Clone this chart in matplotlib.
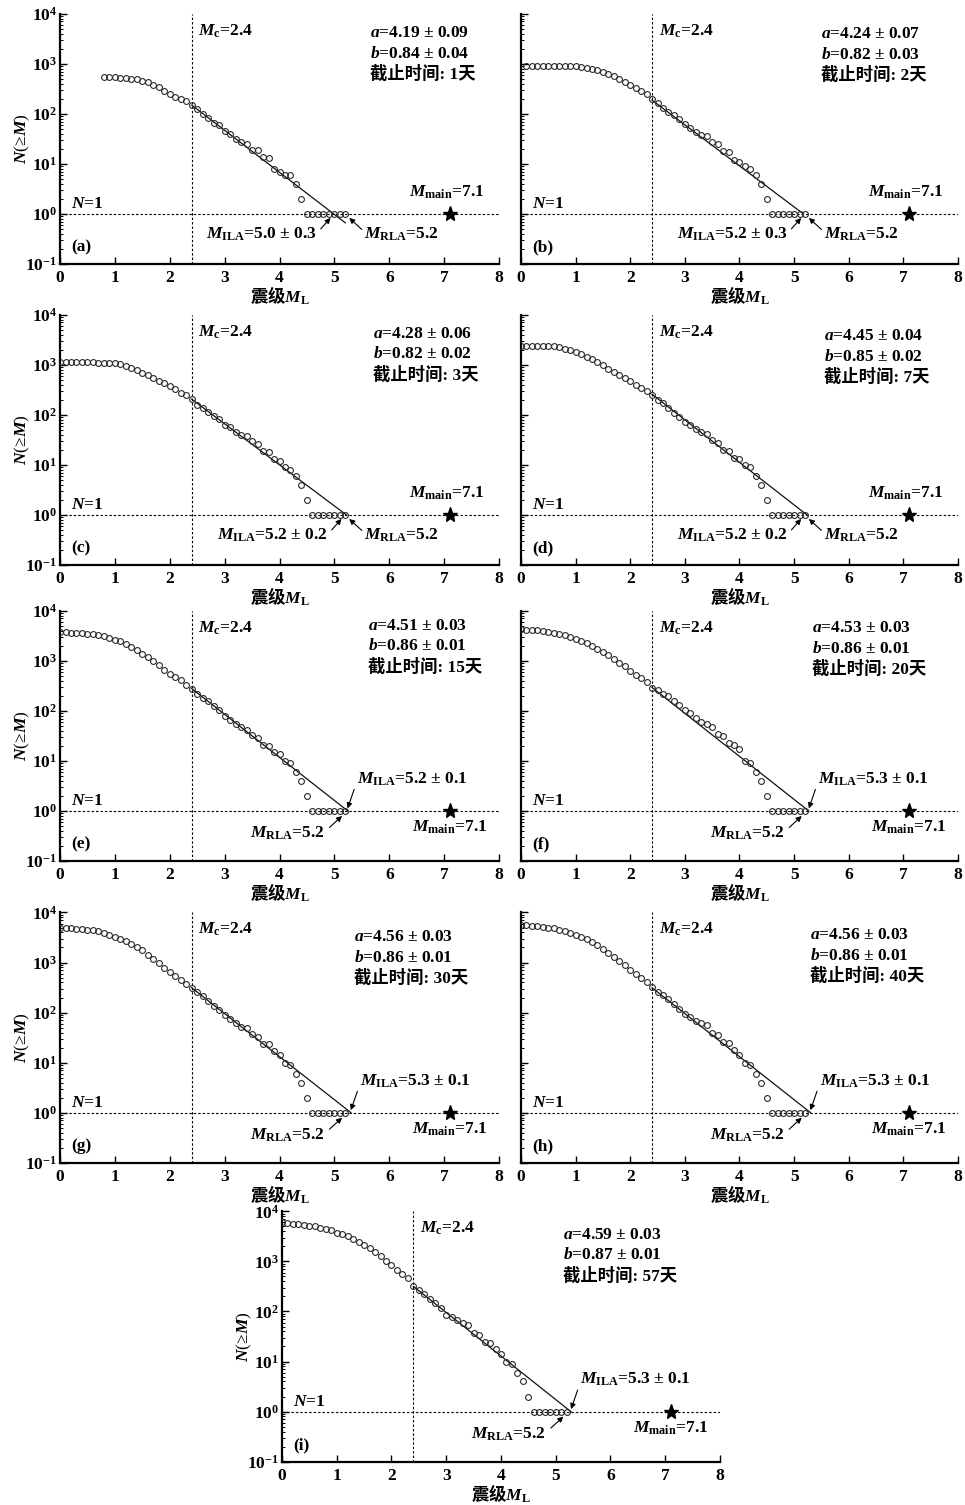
import numpy as np
import matplotlib
matplotlib.use('Agg')
import matplotlib.pyplot as plt

plt.rcParams['font.family'] = ['Liberation Serif', 'Noto Sans CJK SC']
plt.rcParams['font.weight'] = 'bold'
plt.rcParams['mathtext.fontset'] = 'custom'
plt.rcParams['mathtext.rm'] = 'Liberation Serif:bold'
plt.rcParams['mathtext.it'] = 'Liberation Serif:italic:bold'
plt.rcParams['mathtext.bf'] = 'Liberation Serif:bold'
plt.rcParams['mathtext.sf'] = 'Noto Sans CJK SC:bold'  # used for the chinese part of the x label

### DATA ###
# cumulative counts N(>=M), step 0.1 in magnitude
panel_tags = ['(a)', '(b)', '(c)', '(d)', '(e)', '(f)', '(g)', '(h)', '(i)']
cut_days = [1, 2, 3, 7, 15, 20, 30, 40, 57]
m_first = [0.8, 0.1, 0.0, 0.0, 0.0, 0.0, 0.0, 0.0, 0.0]

n_a = [537, 537, 537, 525, 525, 501, 490, 457, 427, 380, 339, 288, 251, 219, 200, 182,
       148, 123, 100, 81, 66, 59, 46, 40, 32, 27, 25, 19, 19, 14, 13, 8, 7, 6, 6, 4, 2,
       1, 1, 1, 1, 1, 1, 1, 1]
n_b = [900, 900, 900, 900, 900, 900, 900, 895, 890, 885,
       880, 830, 790, 735, 680, 610, 560, 500, 430, 380, 330, 285, 245, 200, 166, 133,
       111, 95, 79, 63, 53, 43, 37, 36, 27, 25, 18, 17, 12, 11, 9, 8, 6, 4, 2,
       1, 1, 1, 1, 1, 1, 1]
n_c = [1120, 1120, 1120, 1120, 1120, 1110, 1110, 1100, 1100, 1090,
       1080, 1050, 950, 880, 790, 700, 620, 550, 480, 430, 370, 325, 275, 245, 205, 160,
       138, 113, 94, 82, 64, 57, 46, 40, 37, 30, 26, 19, 18, 13, 12, 9, 8, 6, 4, 2,
       1, 1, 1, 1, 1, 1, 1]
n_d = [2400, 2400, 2400, 2400, 2390, 2380, 2350,
       2250, 2080, 1930, 1780, 1620, 1450, 1300, 1110, 980, 830, 730, 630, 540, 465, 400,
       350, 305, 250, 200, 170, 135, 111, 92, 73, 63, 52, 45, 41, 31, 27, 20, 19, 14, 13,
       10, 9, 6, 4, 2,
       1, 1, 1, 1, 1, 1, 1]
n_e = [3700, 3700, 3650, 3600, 3530, 3450, 3380, 3260, 3070, 2840, 2640, 2450, 2150, 1870,
       1660, 1390, 1210, 1000, 830, 660, 550, 475, 405, 333, 277, 220, 181, 155, 123, 102,
       78, 67, 55, 47, 42, 33, 29, 21, 20, 15, 14, 10, 9, 6, 4, 2,
       1, 1, 1, 1, 1, 1, 1]
n_f = [4270, 4200, 4150, 4050, 3920, 3800, 3620, 3450, 3250, 2990, 2730, 2470, 2220, 1940,
       1700, 1490, 1280, 1090, 900, 770, 630, 530, 450, 384, 283, 255, 215, 194, 160, 133,
       105, 90, 71, 61, 54, 47, 35, 31, 23, 21, 17, 10, 9, 6, 4, 2,
       1, 1, 1, 1, 1, 1, 1]
n_g = [5000, 4900, 4800, 4700, 4600, 4500, 4370, 4170, 3900, 3560, 3250, 2960, 2700, 2340,
       2030, 1740, 1420, 1170, 970, 790, 660, 550, 450, 370, 306, 254, 216, 170, 137, 111,
       90, 76, 61, 52, 49, 37, 33, 24, 24, 17, 14, 10, 9, 6, 4, 2,
       1, 1, 1, 1, 1, 1, 1]
n_h = [5650, 5550, 5400, 5300, 5150, 5000, 4800, 4550, 4250, 3900, 3560, 3250, 2960, 2600,
       2250, 1900, 1580, 1300, 1080, 900, 715, 590, 485, 400, 330, 262, 225, 185, 151, 117,
       95, 82, 68, 61, 56, 40, 35, 26, 25, 18, 14, 10, 9, 6, 4, 2,
       1, 1, 1, 1, 1, 1, 1]
n_i = [6030, 5850, 5650, 5550, 5400, 5150, 5000, 4700, 4500, 4170, 3730, 3480, 3170, 2800,
       2470, 2150, 1820, 1530, 1290, 1030, 850, 680, 570, 465, 325, 270, 222, 180, 147, 116,
       86, 79, 68, 60, 54, 38, 34, 25, 24, 18, 14, 10, 9, 6, 4, 2,
       1, 1, 1, 1, 1, 1, 1]
counts = [n_a, n_b, n_c, n_d, n_e, n_f, n_g, n_h, n_i]

a_val = [4.19, 4.24, 4.28, 4.45, 4.51, 4.53, 4.56, 4.56, 4.59]
a_err = [0.09, 0.07, 0.06, 0.04, 0.03, 0.03, 0.03, 0.03, 0.03]
b_val = [0.84, 0.82, 0.82, 0.85, 0.86, 0.86, 0.86, 0.86, 0.87]
b_err = [0.04, 0.03, 0.02, 0.02, 0.01, 0.01, 0.01, 0.01, 0.01]
m_ila = [5.0, 5.2, 5.2, 5.2, 5.2, 5.3, 5.3, 5.3, 5.3]
ila_err = [0.3, 0.3, 0.2, 0.2, 0.1, 0.1, 0.1, 0.1, 0.1]
m_rla = [5.2, 5.2, 5.2, 5.2, 5.2, 5.2, 5.2, 5.2, 5.2]
fit_end = [5.2, 5.17, 5.22, 5.24, 5.24, 5.27, 5.3, 5.3, 5.28]
mc = 2.4
m_main = 7.1

### LAYOUT ###
col_left = [0.0622, 0.5399] * 4 + [0.2922]
col_width = [0.4549, 0.4528] * 4 + [0.4539]
row_bottom = [0.8246, 0.8246, 0.6246, 0.6246, 0.4279, 0.4279, 0.2274, 0.2274, 0.0288]
ax_h = 0.1663
txt_x = [5.65, 5.5, 5.71, 5.54, 5.61, 5.33, 5.36, 5.3, 5.13]
txt_y = [3.61, 3.59, 3.62, 3.57, 3.70, 3.65, 3.51, 3.55, 3.53]
fs = 12.5
dash = (0, (2.2, 1.8))

fig = plt.figure(figsize=(9.65, 15.05), dpi=100)

for k in range(9):
    ax = fig.add_axes([col_left[k], row_bottom[k], col_width[k], ax_h])
    n = np.array(counts[k], dtype=float)
    m = np.round(m_first[k] + 0.1 * np.arange(len(n)), 1)

    ax.axvline(mc, color='k', lw=0.8, ls=dash, zorder=1)
    ax.axhline(1, color='k', lw=0.8, ls=dash, zorder=1)
    mf = np.linspace(mc, fit_end[k], 50)
    ax.plot(mf, 10 ** (a_val[k] - b_val[k] * mf), color='#111111', lw=0.9, zorder=2)
    ax.plot(m, n, 'o', mfc='none', mec='#2a2a2a', ms=4.2, mew=0.8, zorder=3)
    ax.plot(m_main, 1, marker='*', color='k', ms=11, zorder=4)

    ax.set_yscale('log')
    ax.set_xlim(0, 8)
    ax.set_ylim(0.1, 1e4)
    ax.set_xticks(range(9))
    ax.set_yticks([1e-1, 1, 1e1, 1e2, 1e3, 1e4])
    for s in ['top', 'right']:
        ax.spines[s].set_visible(False)
    for s in ['left', 'bottom']:
        ax.spines[s].set_linewidth(1.6)
    ax.tick_params(which='major', direction='in', length=5, width=1, labelsize=fs)
    ax.tick_params(which='minor', direction='in', length=2.5, width=0.7)
    ax.tick_params(axis='x', pad=4.5)
    ax.tick_params(axis='y', pad=2)
    if k in (1, 3, 5, 7):
        ax.tick_params(labelleft=False)
    else:
        ax.set_ylabel('$N$(≥$M$)', fontsize=fs, labelpad=-5)
    ax.set_xlabel('$\\mathsf{震级}M_{\\mathrm{L}}$', fontsize=fs, labelpad=-1)

    # text block
    ax.text(txt_x[k], 10 ** txt_y[k], f'$a$={a_val[k]:.2f} ± {a_err[k]:.2f}',
            fontsize=fs, va='center')
    ax.text(txt_x[k], 10 ** (txt_y[k] - 0.41), f'$b$={b_val[k]:.2f} ± {b_err[k]:.2f}',
            fontsize=fs, va='center')
    ax.text(txt_x[k], 10 ** (txt_y[k] - 0.82), f'截止时间: {cut_days[k]}天',
            fontsize=fs, va='center')

    ax.text(mc + 0.12, 10 ** 3.57, '$M_{\\mathrm{c}}$=2.4', fontsize=fs, va='baseline')
    ax.text(0.2, 10 ** 0.12, '$N$=1', fontsize=fs, va='baseline')
    ax.text(0.2, 10 ** -0.67, panel_tags[k], fontsize=fs, va='center')

    ila_txt = f'$M_{{\\mathrm{{ILA}}}}$={m_ila[k]:.1f} ± {ila_err[k]:.1f}'
    rla_txt = f'$M_{{\\mathrm{{RLA}}}}$={m_rla[k]:.1f}'
    main_txt = f'$M_{{\\mathrm{{main}}}}$={m_main:.1f}'
    arw = dict(arrowstyle='-|>', color='k', lw=0.8, mutation_scale=8,
               shrinkA=0, shrinkB=0)
    if k < 4:
        ax.annotate('', xy=(m_ila[k] - 0.07, 10 ** -0.08),
                    xytext=(m_ila[k] - 0.25, 10 ** -0.30), arrowprops=arw)
        ax.text(m_ila[k] - 0.32, 10 ** -0.5, ila_txt, fontsize=fs, ha='right', va='baseline')
        ax.annotate('', xy=(m_rla[k] + 0.07, 10 ** -0.08),
                    xytext=(m_rla[k] + 0.3, 10 ** -0.31), arrowprops=arw)
        ax.text(m_rla[k] + 0.34, 10 ** -0.5, rla_txt, fontsize=fs, ha='left', va='baseline')
        ax.text(m_main - 0.05, 10 ** 0.35, main_txt, fontsize=fs, ha='center', va='baseline')
    else:
        ax.annotate('', xy=(fit_end[k], 10 ** 0.05),
                    xytext=(fit_end[k] + 0.12, 10 ** 0.43), arrowprops=arw)
        ax.text(fit_end[k] + 0.17, 10 ** 0.55, ila_txt, fontsize=fs, ha='left', va='baseline')
        ax.annotate('', xy=(m_rla[k] - 0.06, 10 ** -0.1),
                    xytext=(m_rla[k] - 0.29, 10 ** -0.33), arrowprops=arw)
        ax.text(m_rla[k] - 0.38, 10 ** -0.54, rla_txt, fontsize=fs, ha='right', va='baseline')
        ax.text(m_main, 10 ** -0.41, main_txt, fontsize=fs, ha='center', va='baseline')

fig.savefig('out.png', dpi=100)
